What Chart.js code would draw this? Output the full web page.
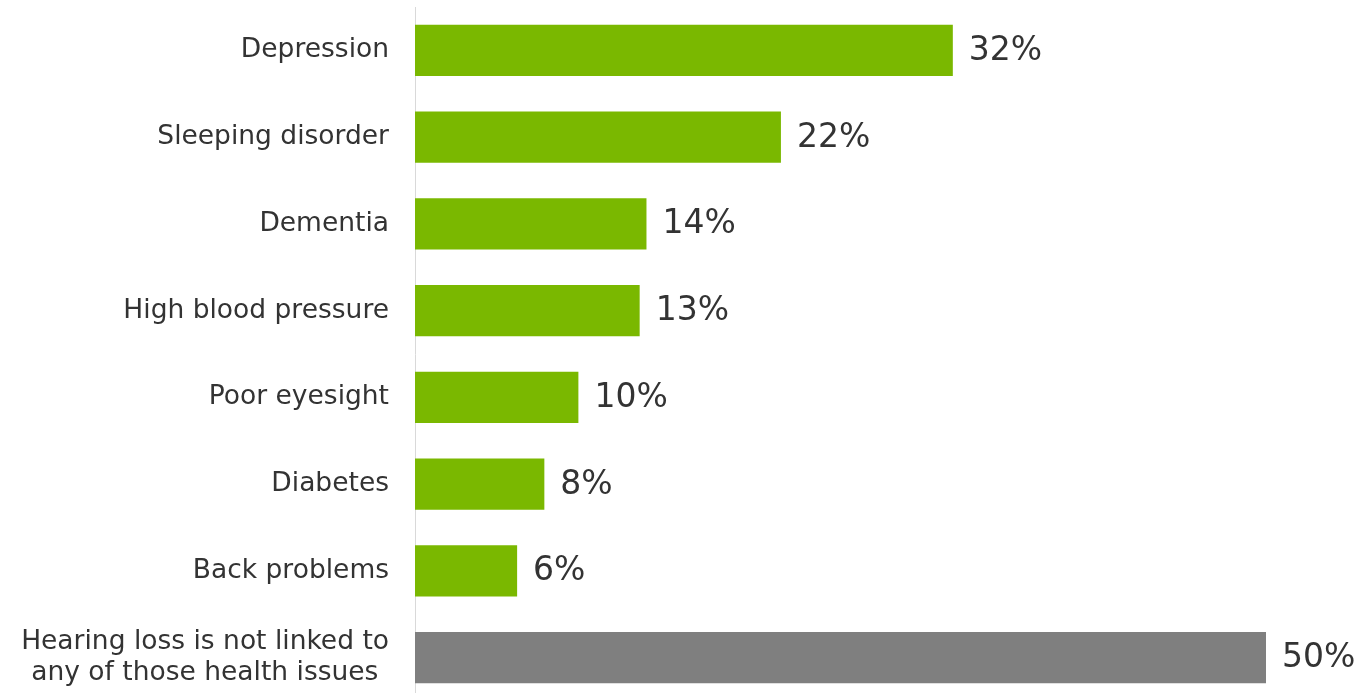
<!DOCTYPE html>
<html>
<head>
<meta charset="utf-8">
<script src="https://cdn.jsdelivr.net/npm/chart.js@4"></script>
<style>
  html, body { margin: 0; padding: 0; background: #ffffff; overflow: hidden; }
  #wrap { width: 1359px; height: 693px; overflow: hidden; }
  canvas { display: block; }
</style>
</head>
<body>
<div id="wrap"><canvas id="c" width="1359" height="701"></canvas></div>
<script>
const categories = [
  "Depression",
  "Sleeping disorder",
  "Dementia",
  "High blood pressure",
  "Poor eyesight",
  "Diabetes",
  "Back problems",
  ["Hearing loss is not linked to", "any of those health issues\u2009\u2009"]
];
const values = [31.6, 21.5, 13.6, 13.2, 9.6, 7.6, 6.0, 50];
const barColors = ["#7AB800", "#7AB800", "#7AB800", "#7AB800", "#7AB800", "#7AB800", "#7AB800", "#7F7F7F"];
const valueLabels = values.map(v => Math.round(v) + "%");

const dataLabelPlugin = {
  id: "dataLabels",
  afterDatasetsDraw(chart) {
    const ctx = chart.ctx;
    const meta = chart.getDatasetMeta(0);
    ctx.save();
    ctx.font = "33px 'DejaVu Sans'";
    ctx.fillStyle = "#333333";
    ctx.textAlign = "left";
    ctx.textBaseline = "middle";
    meta.data.forEach((bar, i) => {
      ctx.fillText(valueLabels[i], bar.x + 16, bar.y + 1);
    });
    ctx.restore();
  }
};

new Chart(document.getElementById("c"), {
  type: "bar",
  data: {
    labels: categories,
    datasets: [{
      data: values,
      backgroundColor: barColors,
      borderWidth: 0,
      categoryPercentage: 1,
      barPercentage: 0.59
    }]
  },
  options: {
    indexAxis: "y",
    responsive: false,
    animation: false,
    devicePixelRatio: 1,
    layout: { padding: { top: 7, right: 93, bottom: 0, left: 0 } },
    plugins: {
      legend: { display: false },
      tooltip: { enabled: false }
    },
    scales: {
      x: {
        display: false,
        min: 0,
        max: 50
      },
      y: {
        afterFit(scale) {
          scale.width = 415;
          scale.paddingTop = 0;
          scale.paddingBottom = 0;
        },
        grid: { display: false, drawTicks: false },
        border: { display: true, color: "#D9D9D9", width: 1 },
        ticks: {
          padding: 26,
          color: "#333333",
          font: { family: "'DejaVu Sans'", size: 26.5, lineHeight: 1.2 },
          autoSkip: false
        }
      }
    }
  },
  plugins: [dataLabelPlugin]
});
</script>
</body>
</html>
